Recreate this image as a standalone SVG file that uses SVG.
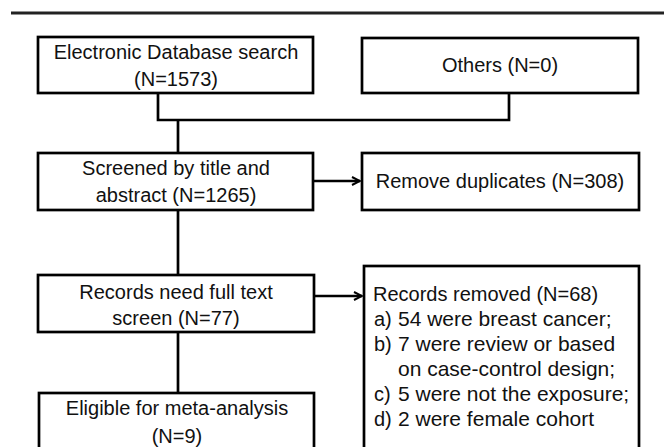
<svg xmlns="http://www.w3.org/2000/svg" width="664" height="447" viewBox="0 0 664 447">
<defs>
<marker id="arr" viewBox="0 0 10 10" refX="9" refY="5" markerWidth="10" markerHeight="10" markerUnits="userSpaceOnUse" orient="auto">
<path d="M1,1 L9,5 L1,9" fill="none" stroke="#000" stroke-width="2"/>
</marker>
<style>
.box{fill:#fff;stroke:#000;stroke-width:2.7}
.t{font-family:"Liberation Sans",Arial,sans-serif;font-size:20px;fill:#111}
.li{font-size:21px}
.c{text-anchor:middle}
.ln{fill:none;stroke:#000;stroke-width:2.7}
</style>
</defs>
<rect width="664" height="447" fill="#fff"/>
<line x1="11" y1="13" x2="664" y2="13" stroke="#222" stroke-width="3"/>
<g id="connectors">
<path class="ln" d="M158,93 V120 H509 V93"/>
<path class="ln" d="M178,120 V153"/>
<path class="ln" d="M178,210 V275"/>
<path class="ln" d="M178,332 V393"/>
<path class="ln" d="M313,181 H360" marker-end="url(#arr)"/>
<path class="ln" d="M314,296 H362" marker-end="url(#arr)"/>
</g>
<g id="n1">
<rect class="box" x="38" y="37" width="275" height="56"/>
<text class="t c" x="176" y="59">Electronic Database search</text>
<text class="t c" x="176" y="86">(N=1573)</text>
</g>
<g id="n2">
<rect class="box" x="362" y="38" width="276" height="55"/>
<text class="t c" x="500" y="72">Others (N=0)</text>
</g>
<g id="n3">
<rect class="box" x="38" y="153" width="275" height="57"/>
<text class="t c" x="176" y="175">Screened by title and</text>
<text class="t c" x="176" y="202">abstract (N=1265)</text>
</g>
<g id="n4">
<rect class="box" x="362" y="153" width="277" height="57"/>
<text class="t c" x="500" y="188">Remove duplicates (N=308)</text>
</g>
<g id="n5">
<rect class="box" x="38" y="275" width="276" height="57"/>
<text class="t c" x="176" y="299">Records need full text</text>
<text class="t c" x="176" y="325">screen (N=77)</text>
</g>
<g id="n6">
<rect class="box" x="364" y="266" width="275" height="190"/>
<text class="t" x="373" y="301">Records removed (N=68)</text>
<text class="t" x="374" y="326">a)</text><text class="t li" x="398" y="326">54 were breast cancer;</text>
<text class="t" x="374" y="351">b)</text><text class="t li" x="398" y="351">7 were review or based</text>
<text class="t li" x="398" y="376">on case-control design;</text>
<text class="t" x="374" y="401">c)</text><text class="t li" x="398" y="401">5 were not the exposure;</text>
<text class="t" x="374" y="426">d)</text><text class="t li" x="398" y="426">2 were female cohort</text>
</g>
<g id="n7">
<rect class="box" x="39" y="393" width="275" height="70"/>
<text class="t c" x="177" y="415">Eligible for meta-analysis</text>
<text class="t c" x="177" y="443">(N=9)</text>
</g>
</svg>
